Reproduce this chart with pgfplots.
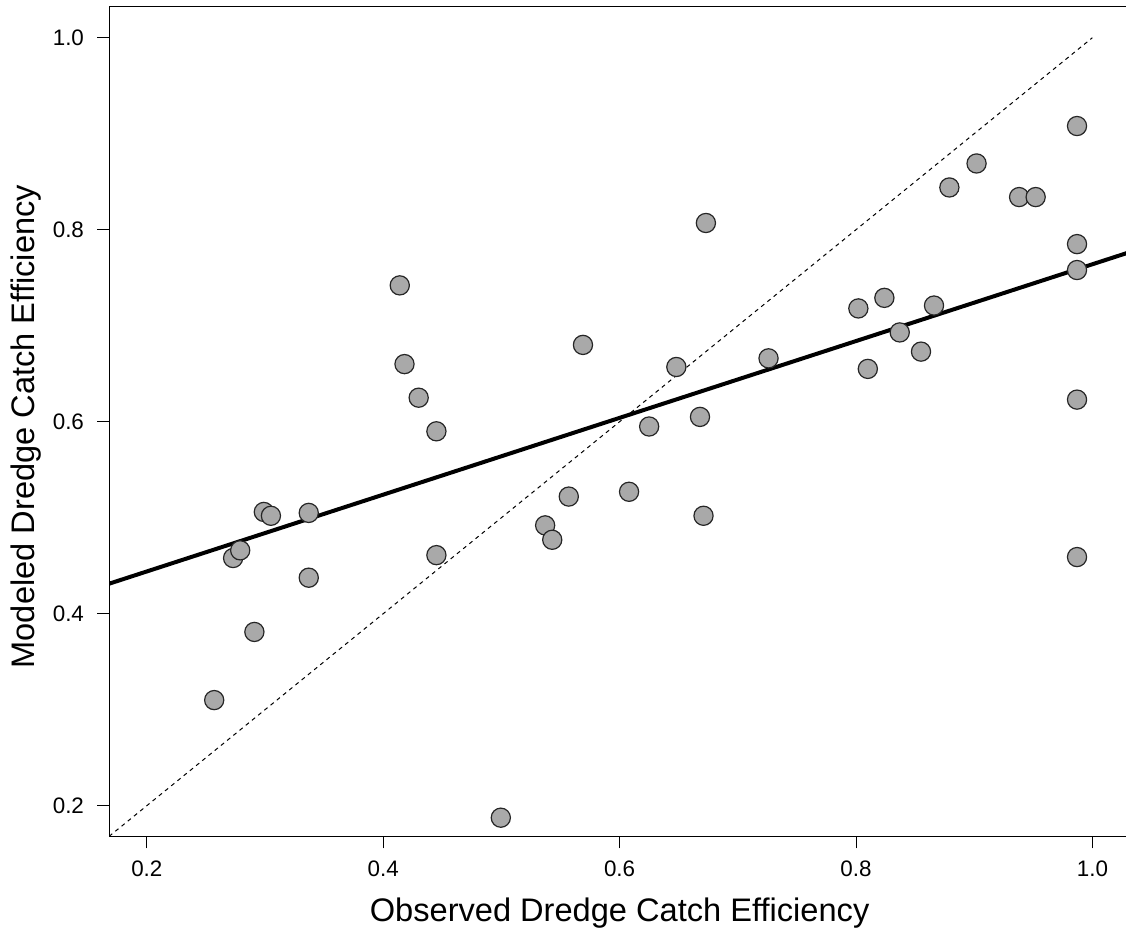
\documentclass[border=0pt]{standalone}
\usepackage{pgfplots}
\pgfplotsset{compat=1.18}
\usepackage{fontspec}
\setmainfont{Liberation Sans}
\definecolor{markgray}{HTML}{A9A9A9}

\begin{document}
\begin{tikzpicture}
\begin{axis}[
    scale only axis,
    width=510.6pt, height=414.7pt,
    xmin=0.168, xmax=1.032,
    ymin=0.168, ymax=1.032,
    xtick={0.2,0.4,0.6,0.8,1.0},
    xticklabels={0.2,0.4,0.6,0.8,1.0},
    ytick={0.2,0.4,0.6,0.8,1.0},
    yticklabels={0.2,0.4,0.6,0.8,1.0},
    tick pos=left,
    tick align=outside,
    major tick length=6pt,
    axis line style={line width=0.5pt},
    every tick/.style={black, line width=0.5pt},
    tick label style={font=\fontsize{11.2}{13}\selectfont},
    xticklabel style={yshift=-2.5pt},
    yticklabel style={xshift=-3pt},
    label style={font=\fontsize{16.3}{19}\selectfont},
    xlabel={Observed Dredge Catch Efficiency},
    ylabel={Modeled Dredge Catch Efficiency},
    xlabel style={at={(axis description cs:0.5,-0.1025)}, anchor=base},
    ylabel style={at={(axis description cs:-0.0725,0.494)}, anchor=base, rotate=0},
]
% 1:1 line
\addplot[black, line width=0.5pt, dash pattern=on 2pt off 2pt] coordinates {(0,0) (1,1)};
% fitted line
\addplot[black, line width=2pt] coordinates {(0.168,0.4312) (1.032,0.7768)};
% observations
\addplot[only marks, mark=*, mark size=4.8pt,
    mark options={fill=markgray, draw=black!85, line width=0.6pt}]
coordinates {
(0.257,0.310) (0.273,0.458) (0.279,0.466) (0.291,0.381) (0.299,0.506)
(0.305,0.502) (0.337,0.505) (0.337,0.4375) (0.414,0.742) (0.418,0.660)
(0.430,0.625) (0.445,0.590) (0.445,0.461) (0.4995,0.1875) (0.537,0.492)
(0.543,0.477) (0.557,0.522) (0.569,0.680) (0.608,0.527) (0.625,0.595)
(0.648,0.657) (0.668,0.605) (0.671,0.502) (0.673,0.807) (0.726,0.666)
(0.802,0.718) (0.810,0.655) (0.824,0.729) (0.837,0.693) (0.855,0.673)
(0.866,0.721) (0.879,0.844) (0.902,0.869) (0.938,0.834) (0.952,0.834)
(0.987,0.908) (0.987,0.785) (0.987,0.758) (0.987,0.623) (0.987,0.459)
};
\end{axis}
\pgfresetboundingbox
\path[use as bounding box] ([xshift=-54.5pt, yshift=-48pt]current axis.south west)
    rectangle ([xshift=-2.1pt, yshift=3.5pt]current axis.north east);
\end{tikzpicture}
\end{document}
